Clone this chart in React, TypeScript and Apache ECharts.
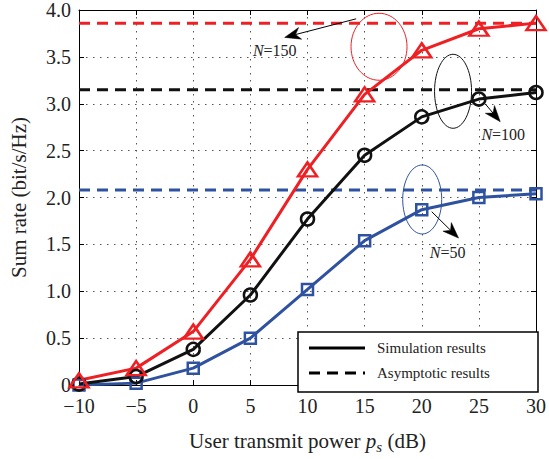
import React, { useEffect, useRef } from "react";
import * as echarts from "echarts";

const powerDb = [-10, -5, 0, 5, 10, 15, 20, 25, 30];
const simN150 = [0.05, 0.18, 0.57, 1.34, 2.3, 3.1, 3.57, 3.8, 3.86];
const simN100 = [0.01, 0.09, 0.38, 0.96, 1.77, 2.45, 2.86, 3.05, 3.12];
const simN50 = [0.0, 0.02, 0.18, 0.5, 1.02, 1.54, 1.87, 2.0, 2.04];
const asymN150 = 3.86;
const asymN100 = 3.15;
const asymN50 = 2.08;
const xTicks = [-10, -5, 0, 5, 10, 15, 20, 25, 30];
const yTicks = [0, 0.5, 1, 1.5, 2, 2.5, 3, 3.5, 4];

// annotations in data coordinates
const ellipses = [
  { c: [16.26, 3.608], rx: 28, ry: 33.5, color: "#EE2024" },
  { c: [22.74, 3.133], rx: 18.5, ry: 37, color: "#111111" },
  { c: [20.04, 1.979], rx: 19.5, ry: 34.5, color: "#2F52A0" },
];
const arrows = [
  { from: [14.26, 3.906], to: [8.0, 3.708] },
  { from: [25.57, 2.997], to: [26.87, 2.809] },
  { from: [20.87, 1.849], to: [23.22, 1.567] },
];
const labels = [
  { at: [5.22, 3.572], n: "150" },
  { at: [25.22, 2.674], n: "100" },
  { at: [20.7, 1.41], n: "50" },
];

const RED = "#EE2024";
const BLACK = "#111111";
const BLUE = "#2F52A0";
const FONT = "Liberation Serif";

const GRID = { left: 78, top: 9, right: 11, bottom: 67 };

function pairs(ys: number[]) {
  return powerDb.map((x, i) => [x, ys[i]]);
}

export default function App() {
  const ref = useRef<HTMLDivElement>(null);
  useEffect(() => {
    document.body.style.margin = "0";
    const chart = echarts.init(ref.current!, null, { renderer: "svg" });
    const simSeries = (name: string, ys: number[], color: string, symbol: string, size: any) => ({
      name,
      type: "line",
      data: pairs(ys),
      symbol,
      symbolSize: size,
      lineStyle: { color, width: 3 },
      itemStyle: { color: "rgba(0,0,0,0)", borderColor: color, borderWidth: 2.5 },
      z: 5,
    });
    const asymSeries = (name: string, v: number, color: string) => ({
      name,
      type: "line",
      data: [
        [xTicks[0], v],
        [xTicks[xTicks.length - 1], v],
      ],
      symbol: "none",
      lineStyle: { color, width: 3, type: [11, 7] },
      z: 4,
    });
    const axisCommon = {
      type: "value",
      axisLine: { show: true, onZero: false, lineStyle: { color: "#000", width: 1 } },
      axisTick: { show: true, inside: true, length: 5, lineStyle: { color: "#000" } },
    };
    chart.setOption({
      animation: false,
      backgroundColor: "#fff",
      grid: { ...GRID, containLabel: false },
      xAxis: [
        {
          ...axisCommon,
          min: -10,
          max: 30,
          interval: 5,
          axisLabel: {
            fontFamily: FONT,
            fontSize: 20,
            color: "#222",
            margin: 11,
            formatter: (v: number) => String(v).replace("-", "\u2212"),
          },
          splitLine: { show: true, lineStyle: { color: "#555", width: 1, type: [1.5, 5.5] } },
          name: "User transmit power {it|p}{sub|s} (dB)",
          nameLocation: "middle",
          nameGap: 42,
          nameTextStyle: {
            fontFamily: FONT,
            fontSize: 21,
            color: "#222",
            rich: {
              it: { fontFamily: FONT, fontSize: 21, fontStyle: "italic", color: "#222" },
              sub: {
                fontFamily: FONT,
                fontSize: 15,
                fontStyle: "italic",
                color: "#222",
                padding: [12, 0, 0, 0],
              },
            },
          },
        },
        {
          ...axisCommon,
          position: "top",
          min: -10,
          max: 30,
          interval: 5,
          axisLabel: { show: false },
          splitLine: { show: false },
        },
      ],
      yAxis: [
        {
          ...axisCommon,
          min: 0,
          max: 4,
          interval: 0.5,
          axisLabel: {
            fontFamily: FONT,
            fontSize: 20,
            color: "#222",
            margin: 8,
            formatter: (v: number) => (v === 0 ? "0" : v.toFixed(1)),
          },
          splitLine: { show: true, lineStyle: { color: "#555", width: 1, type: [1.5, 5.5] } },
          name: "Sum rate (bit/s/Hz)",
          nameLocation: "middle",
          nameGap: 50,
          nameTextStyle: { fontFamily: FONT, fontSize: 21, color: "#222" },
        },
        {
          ...axisCommon,
          position: "right",
          min: 0,
          max: 4,
          interval: 0.5,
          axisLabel: { show: false },
          splitLine: { show: false },
        },
      ],
      series: [
        asymSeries("Asymptotic N=150", asymN150, RED),
        asymSeries("Asymptotic N=100", asymN100, BLACK),
        asymSeries("Asymptotic N=50", asymN50, BLUE),
        simSeries("Simulation N=50", simN50, BLUE, "rect", 11),
        simSeries("Simulation N=100", simN100, BLACK, "circle", 13),
        simSeries("Simulation N=150", simN150, RED, "triangle", [19, 14]),
      ],
    });

    const px = (p: number[]) => chart.convertToPixel({ gridIndex: 0 }, p) as number[];
    const graphics: any[] = [];
    ellipses.forEach((e) => {
      const c = px(e.c);
      graphics.push({
        type: "ellipse",
        shape: { cx: c[0], cy: c[1], rx: e.rx, ry: e.ry },
        style: { fill: "none", stroke: e.color, lineWidth: 1 },
        z: 20,
      });
    });
    arrows.forEach((a) => {
      const t = px(a.from);
      const h = px(a.to);
      const dx = h[0] - t[0];
      const dy = h[1] - t[1];
      const len = Math.sqrt(dx * dx + dy * dy);
      const ux = dx / len;
      const uy = dy / len;
      const pxv = -uy;
      const pyv = ux;
      const L = 16;
      const W = 6;
      const bx = h[0] - ux * L;
      const by = h[1] - uy * L;
      const nx = h[0] - ux * L * 0.7;
      const ny = h[1] - uy * L * 0.7;
      graphics.push({
        type: "line",
        shape: { x1: t[0], y1: t[1], x2: nx, y2: ny },
        style: { stroke: "#000", lineWidth: 1 },
        z: 20,
      });
      graphics.push({
        type: "polygon",
        shape: {
          points: [
            [h[0], h[1]],
            [bx + pxv * W, by + pyv * W],
            [nx, ny],
            [bx - pxv * W, by - pyv * W],
          ],
        },
        style: { fill: "#000", stroke: "#000", lineWidth: 0.5 },
        z: 20,
      });
    });
    labels.forEach((l) => {
      const p = px(l.at);
      graphics.push({
        type: "text",
        x: p[0],
        y: p[1],
        style: {
          text: "{i|N}=" + l.n,
          fontFamily: FONT,
          fontSize: 16,
          fill: "#222",
          verticalAlign: "middle",
          align: "left",
          rich: { i: { fontFamily: FONT, fontSize: 16, fontStyle: "italic", fill: "#222" } },
        },
        z: 20,
      });
    });
    // legend box
    const lx = 298;
    const ly = 332;
    const lw = 549 - GRID.right - lx;
    const lh = 459 - GRID.bottom - ly;
    graphics.push({
      type: "rect",
      shape: { x: lx, y: ly, width: lw, height: lh },
      style: { fill: "#fff", stroke: "#000", lineWidth: 1.5 },
      z: 30,
    });
    const legendItems = [
      { text: "Simulation results", dash: null as any, y: 348 },
      { text: "Asymptotic results", dash: [11, 7], y: 373 },
    ];
    legendItems.forEach((it) => {
      graphics.push({
        type: "line",
        shape: { x1: 309, y1: it.y, x2: 365, y2: it.y },
        style: { stroke: "#000", lineWidth: 3, lineDash: it.dash },
        z: 31,
      });
      graphics.push({
        type: "text",
        x: 377,
        y: it.y,
        style: {
          text: it.text,
          fontFamily: FONT,
          fontSize: 15,
          fill: "#222",
          verticalAlign: "middle",
          align: "left",
        },
        z: 31,
      });
    });
    chart.setOption({ graphic: graphics });
    return () => chart.dispose();
  }, []);
  return <div ref={ref} style={{ width: 549, height: 459 }} />;
}
